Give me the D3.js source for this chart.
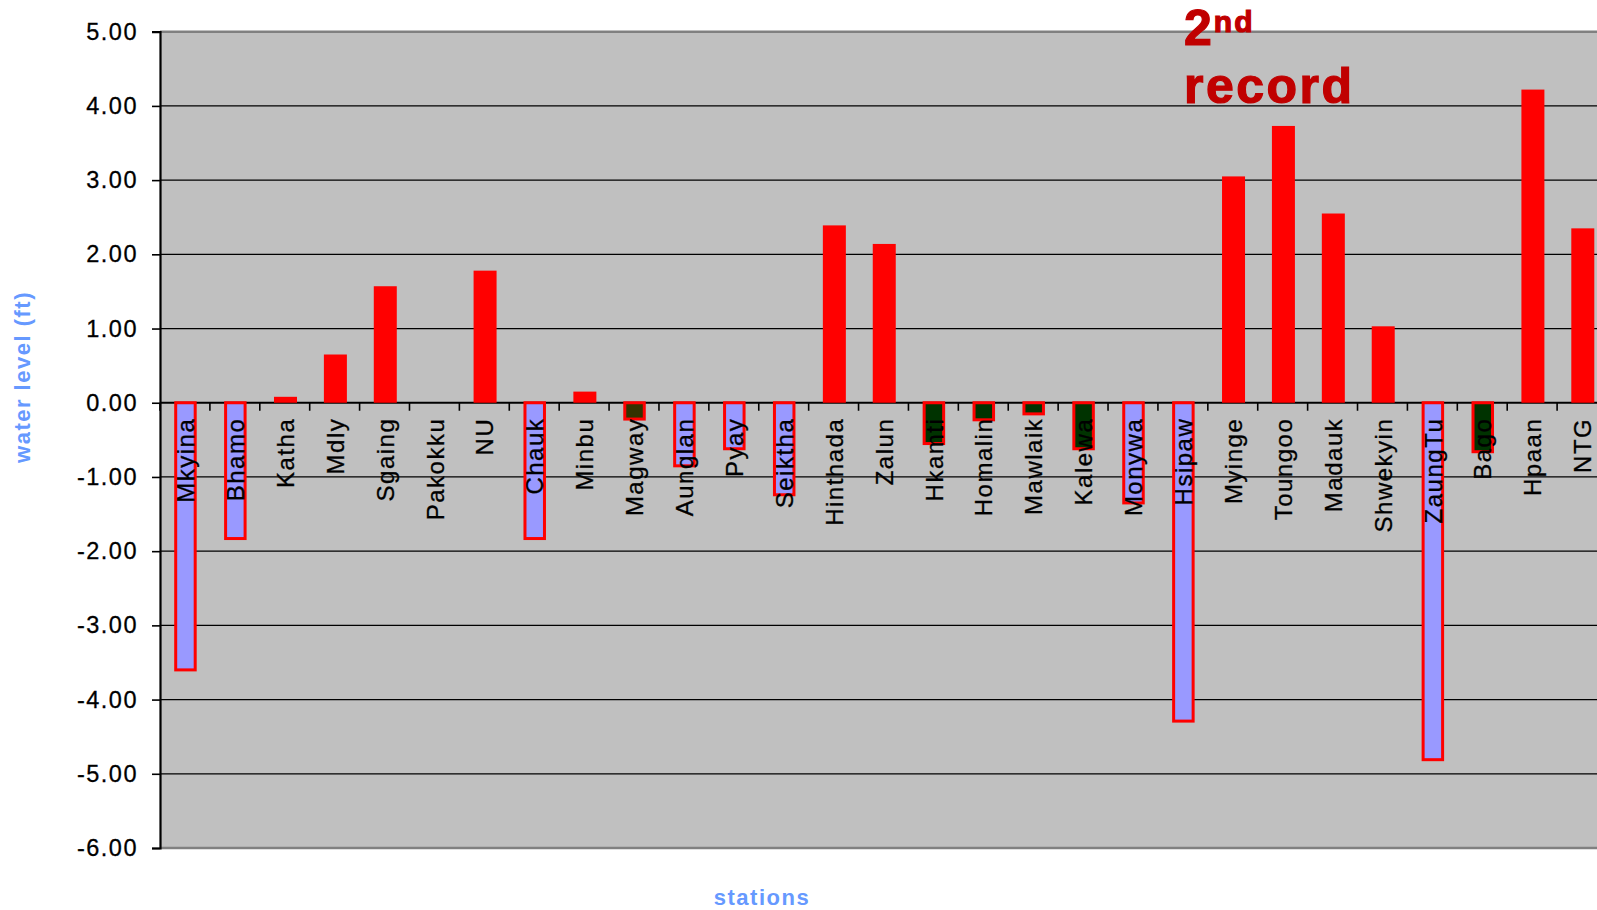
<!DOCTYPE html>
<html>
<head>
<meta charset="utf-8">
<script src="https://cdn.jsdelivr.net/npm/d3@7"></script>
<style>
  html, body { margin: 0; padding: 0; background: #fff; overflow: hidden; }
  svg { display: block; font-family: "Liberation Sans", Arial, sans-serif; }
</style>
</head>
<body>
<div id="chart"></div>
<script>
// Station names along the x axis
const stations = ['Mkyina', 'Bhamo', 'Katha', 'Mdly', 'Sgaing', 'Pakokku', 'NU', 'Chauk',
    'Minbu', 'Magway', 'Aunglan', 'Pyay', 'Seiktha', 'Hinthada', 'Zalun', 'Hkamti',
    'Homalin', 'Mawlaik', 'Kalewa', 'Monywa', 'Hsipaw', 'Myinge', 'Toungoo', 'Madauk',
    'Shwekyin', 'ZaungTu', 'Bago', 'Hpaan', 'NTG'];

// Water level difference (ft)
const levels = [-3.60, -1.83, 0.08, 0.65, 1.57, 0.00, 1.78, -1.83,
    0.15, -0.22, -0.85, -0.62, -1.24, 2.39, 2.14, -0.55,
    -0.23, -0.15, -0.62, -1.35, -4.29, 3.05, 3.73, 2.55,
    1.03, -4.81, -0.66, 4.22, 2.35];

// Bar group (decides fill)
const groups = ['fall', 'fall', 'rise', 'rise', 'rise', 'rise', 'rise', 'fall',
    'rise', 'olive', 'fall', 'fall', 'fall', 'rise', 'rise', 'green',
    'green', 'green', 'green', 'fall', 'fall', 'rise', 'rise', 'rise',
    'rise', 'fall', 'green', 'rise', 'rise'];

const yTicks = [5, 4, 3, 2, 1, 0, -1, -2, -3, -4, -5, -6];

const fills = { rise: '#ff0000', fall: '#9999ff', green: '#003300', olive: '#333300' };

const W = 1597, H = 910;
const m = { left: 160, right: 1607, top: 31.7, bottom: 848 };

const svg = d3.select('#chart').append('svg')
    .attr('width', W)
    .attr('height', H);

const x = d3.scaleBand().domain(stations).range([m.left, m.right]).padding(0);
const y = d3.scaleLinear().domain([-6, 5]).range([m.bottom, m.top]);
const barW = 19.5;

// Plot background
svg.append('rect')
    .attr('x', m.left).attr('y', m.top)
    .attr('width', m.right - m.left).attr('height', m.bottom - m.top)
    .attr('fill', '#c0c0c0');

// Gridlines
svg.append('g')
    .selectAll('line')
    .data(yTicks.filter(d => d > -6 && d < 5))
    .enter()
    .append('line')
    .attr('x1', m.left).attr('x2', W)
    .attr('y1', d => y(d)).attr('y2', d => y(d))
    .attr('stroke', '#000')
    .attr('stroke-width', d => d === 0 ? 1.8 : 1.3);

// Top and bottom frame
[5, -6].forEach(v => {
    svg.append('line')
        .attr('x1', m.left).attr('x2', W)
        .attr('y1', y(v)).attr('y2', y(v))
        .attr('stroke', '#808080')
        .attr('stroke-width', 2.6);
});

// Bars
svg.append('g')
    .selectAll('rect')
    .data(stations.map((s, i) => ({ s, v: levels[i], g: groups[i] })))
    .enter()
    .append('rect')
    .attr('x', d => x(d.s) + x.bandwidth() / 2 - barW / 2 + (d.v < 0 ? 0.5 : -1))
    .attr('width', d => d.v < 0 ? barW : barW + 3.5)
    .attr('y', d => d.v >= 0 ? y(d.v) : y(0))
    .attr('height', d => Math.abs(y(d.v) - y(0)))
    .attr('fill', d => fills[d.g])
    .attr('stroke', d => d.v < 0 ? '#ff0000' : 'none')
    .attr('stroke-width', 3);

// Small ticks under the zero line at category boundaries
svg.append('g')
    .selectAll('line')
    .data(stations)
    .enter()
    .append('line')
    .attr('x1', d => x(d)).attr('x2', d => x(d))
    .attr('y1', y(0)).attr('y2', y(0) + 8)
    .attr('stroke', '#000')
    .attr('stroke-width', 1.6);

// Category labels, rotated
svg.append('g')
    .selectAll('text')
    .data(stations)
    .enter()
    .append('text')
    .attr('transform', d => `translate(${x(d) + x.bandwidth() / 2 + 0.5},${y(0) + 15}) rotate(-90)`)
    .attr('text-anchor', 'end')
    .attr('dy', '0.36em')
    .attr('font-size', 24)
    .attr('letter-spacing', 1.5)
    .attr('fill', '#000')
    .attr('stroke', '#000')
    .attr('stroke-width', 0.3)
    .text(d => d);

// Y axis
const yAxis = svg.append('g')
    .attr('transform', `translate(${m.left},0)`)
    .call(d3.axisLeft(y)
        .tickValues(yTicks)
        .tickFormat(d => d.toFixed(2))
        .tickSize(8)
        .tickPadding(14));

yAxis.select('.domain').attr('stroke', '#000').attr('stroke-width', 2.2);
yAxis.selectAll('.tick line').attr('stroke', '#000').attr('stroke-width', 1.6);
yAxis.selectAll('.tick text')
    .attr('font-family', '"Liberation Sans", Arial, sans-serif')
    .attr('font-size', 23.5)
    .attr('letter-spacing', 1.5)
    .attr('fill', '#000')
    .attr('stroke', '#000')
    .attr('stroke-width', 0.3);

// Axis titles
svg.append('text')
    .attr('transform', `translate(22,377) rotate(-90)`)
    .attr('text-anchor', 'middle')
    .attr('dy', '0.36em')
    .attr('font-size', 22)
    .attr('font-weight', 'bold')
    .attr('letter-spacing', 1.5)
    .attr('fill', '#6699ff')
    .text('water level (ft)');

svg.append('text')
    .attr('x', 762)
    .attr('y', 905)
    .attr('text-anchor', 'middle')
    .attr('font-size', 22)
    .attr('font-weight', 'bold')
    .attr('letter-spacing', 1.5)
    .attr('fill', '#6699ff')
    .text('stations');

// "2nd record" note
const note = svg.append('text')
    .attr('x', 1184)
    .attr('y', 45)
    .attr('font-size', 50)
    .attr('font-weight', 'bold')
    .attr('letter-spacing', 2)
    .attr('fill', '#c00000')
    .attr('stroke', '#c00000')
    .attr('stroke-width', 1.2);
note.append('tspan').text('2');
note.append('tspan').attr('font-size', 30).attr('dy', -13).text('nd');

svg.append('text')
    .attr('x', 1184)
    .attr('y', 103)
    .attr('font-size', 50)
    .attr('font-weight', 'bold')
    .attr('letter-spacing', 2.5)
    .attr('fill', '#c00000')
    .attr('stroke', '#c00000')
    .attr('stroke-width', 1.2)
    .text('record');
</script>
</body>
</html>
